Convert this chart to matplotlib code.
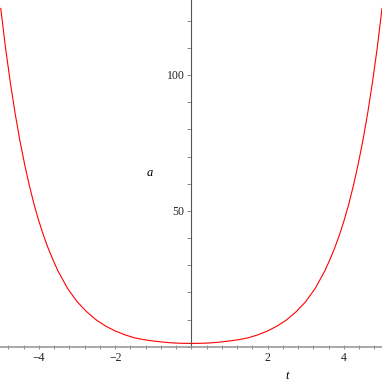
import matplotlib.pyplot as plt
from matplotlib.ticker import MultipleLocator, FixedLocator

# values (curve is symmetric about t = 0)
t_pos = [0, 0.25, 0.5, 0.75, 1, 1.25, 1.5, 1.75, 2, 2.25, 2.5, 2.75,
         3, 3.25, 3.5, 3.625, 3.75, 3.875,
         4, 4.125, 4.25, 4.375, 4.5, 4.625, 4.75, 4.875, 5]
a_pos = [1.2, 1.25, 1.4, 1.7, 2.1, 2.6, 3.3, 4.4, 5.8, 7.6, 9.9, 12.9,
         16.6, 21.5, 27.9, 31.8, 36.0, 40.8,
         46.2, 52.3, 59.3, 67.2, 76.0, 86.0, 97.3, 110.0, 124.5]

t = [-v for v in t_pos[:0:-1]] + t_pos
a = a_pos[:0:-1] + a_pos

xticks = [-4, -2, 2, 4]
yticks = [50, 100]

plt.rcParams['font.family'] = ['Liberation Serif', 'DejaVu Serif']

fig = plt.figure(figsize=(3.82, 3.82), dpi=100)
ax = fig.add_axes([0, 35.3 / 382, 1, 346.7 / 382])

ax.plot(t, a, color='#ff0000', lw=0.8)

ax.set_xlim(-5.02, 5.0)
ax.set_ylim(0, 127.6)

ax.spines['top'].set_visible(False)
ax.spines['right'].set_visible(False)
ax.spines['left'].set_position(('data', 0))
ax.spines['left'].set_color('#555555')
ax.spines['bottom'].set_color('#999999')
ax.spines['bottom'].set_linewidth(1.2)

ax.xaxis.set_major_locator(FixedLocator(xticks))
ax.xaxis.set_minor_locator(MultipleLocator(0.4))
ax.yaxis.set_major_locator(FixedLocator(yticks))
ax.yaxis.set_minor_locator(MultipleLocator(10))
ax.set_xticklabels(['\u2212' + str(-v) if v < 0 else str(v) for v in xticks])

ax.tick_params(axis='x', which='both', direction='inout', length=3, width=0.6,
               color='#777777', labelsize=8.5, labelcolor='#222222', pad=2)
ax.tick_params(axis='y', which='both', direction='out', length=3, width=0.6,
               color='#777777', labelsize=8.5, labelcolor='#222222', pad=2)

fig.text(150 / 382, 1 - 173 / 382, 'a', style='italic', fontsize=9, ha='center', va='center')
fig.text(287 / 382, 1 - 376 / 382, 't', style='italic', fontsize=9, ha='center', va='center')

fig.savefig('out.png', dpi=100)
